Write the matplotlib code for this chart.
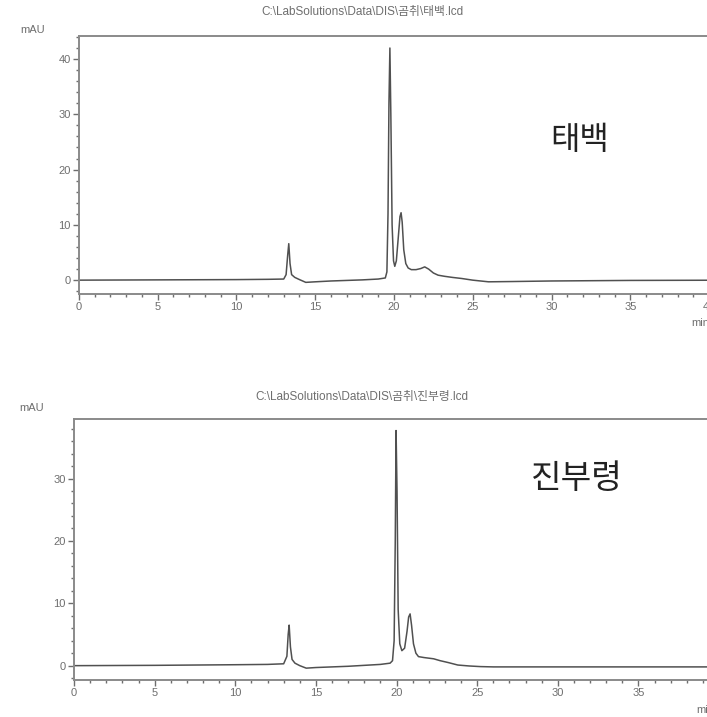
import matplotlib
matplotlib.use("Agg")
import matplotlib.pyplot as plt
from matplotlib.ticker import MultipleLocator

plt.rcParams["font.family"] = ["Liberation Sans", "Noto Sans CJK KR", "DejaVu Sans"]

# chromatogram 1 (태백): retention time (min) vs absorbance (mAU)
time_taebaek = [0, 5, 10, 12, 13.0, 13.15, 13.25, 13.32, 13.4, 13.5, 13.7, 14.0, 14.4, 15.0,
                16.0, 17.0, 18.0, 19.0, 19.45, 19.55, 19.62, 19.68, 19.74, 19.8, 19.88, 19.97,
                20.05, 20.15, 20.28, 20.38, 20.45, 20.52, 20.62, 20.75, 20.9, 21.1, 21.4, 21.7,
                21.95, 22.2, 22.5, 22.8, 23.2, 23.7, 24.3, 25.0, 26.0, 27.5, 30.0, 35.0, 42.0]
signal_taebaek = [0.0, 0.05, 0.1, 0.15, 0.2, 1.0, 4.5, 6.6, 3.0, 1.0, 0.5, 0.1, -0.4, -0.3,
                  -0.15, -0.05, 0.05, 0.2, 0.4, 1.5, 12.0, 32.0, 42.0, 30.0, 10.0, 3.5,
                  2.5, 3.5, 8.0, 11.5, 12.2, 10.5, 5.5, 3.0, 2.2, 1.9, 1.9, 2.1,
                  2.4, 2.0, 1.3, 0.9, 0.7, 0.5, 0.3, 0.0, -0.3, -0.25, -0.15, -0.05, 0.0]

# chromatogram 2 (진부령)
time_jinbu = [0, 5, 10, 12, 13.0, 13.2, 13.28, 13.34, 13.42, 13.52, 13.7, 14.0, 14.4, 15.0,
              16.0, 17.0, 18.0, 19.0, 19.6, 19.75, 19.85, 19.92, 19.97, 20.03, 20.1, 20.2,
              20.33, 20.5, 20.65, 20.75, 20.84, 20.93, 21.05, 21.2, 21.36, 21.7, 22.0, 22.3,
              22.7, 23.2, 23.8, 24.5, 25.2, 26.0, 30.0, 35.0, 42.0]
signal_jinbu = [0.0, 0.05, 0.15, 0.2, 0.3, 1.5, 5.0, 6.5, 3.0, 1.0, 0.4, 0.0, -0.4, -0.3,
                -0.2, -0.1, 0.05, 0.2, 0.4, 0.8, 4.0, 20.0, 37.7, 28.0, 9.0, 3.5,
                2.4, 2.8, 5.5, 7.8, 8.3, 6.5, 3.5, 2.0, 1.45, 1.3, 1.2, 1.1,
                0.8, 0.5, 0.1, -0.05, -0.15, -0.2, -0.2, -0.2, -0.2]

LINE = "#505050"
GREY = "#6e6e6e"


def style_axis(ax, xlim, ylim, ymajor):
    ax.set_xlim(*xlim)
    ax.set_ylim(*ylim)
    ax.xaxis.set_major_locator(MultipleLocator(5))
    ax.xaxis.set_minor_locator(MultipleLocator(1))
    ax.yaxis.set_major_locator(MultipleLocator(ymajor))
    ax.yaxis.set_minor_locator(MultipleLocator(2))
    ax.tick_params(which="major", length=4, width=1, color=GREY, labelcolor=GREY,
                   labelsize=8, pad=2)
    ax.tick_params(which="minor", length=2.5, width=1, color=GREY)
    for sp in ax.spines.values():
        sp.set_color("#8a8a8a")
        sp.set_linewidth(1.4)


fig = plt.figure(figsize=(7.07, 7.17), dpi=100)

ax1 = fig.add_axes([0.1117, 0.590, 0.9357, 0.360])
ax1.plot(time_taebaek, signal_taebaek, color=LINE, lw=1.1)
style_axis(ax1, (0, 42), (-2.5, 44.2), 10)
fig.text(0.82, 0.805, "태백", ha="center", va="center",
         fontsize=23, color="#222222", family=["Noto Sans CJK KR"])
fig.text(0.513, 0.983, "C:\\LabSolutions\\Data\\DIS\\곰취\\태백.lcd", ha="center", va="center",
         fontsize=8.5, color=GREY)
fig.text(0.046, 0.958, "mAU", ha="center", va="center", fontsize=8, color=GREY)
fig.text(0.978, 0.549, "min", ha="left", va="center", fontsize=8, color=GREY)

ax2 = fig.add_axes([0.1047, 0.0516, 0.958, 0.3636])
ax2.plot(time_jinbu, signal_jinbu, color=LINE, lw=1.1)
style_axis(ax2, (0, 42), (-2.3, 39.5), 10)
fig.text(0.816, 0.333, "진부령", ha="center", va="center",
         fontsize=24, color="#222222", family=["Noto Sans CJK KR"])
fig.text(0.512, 0.446, "C:\\LabSolutions\\Data\\DIS\\곰취\\진부령.lcd", ha="center", va="center",
         fontsize=8.5, color=GREY)
fig.text(0.045, 0.431, "mAU", ha="center", va="center", fontsize=8, color=GREY)
fig.text(0.985, 0.010, "min", ha="left", va="center", fontsize=8, color=GREY)

fig.savefig("out.png", dpi=100)
